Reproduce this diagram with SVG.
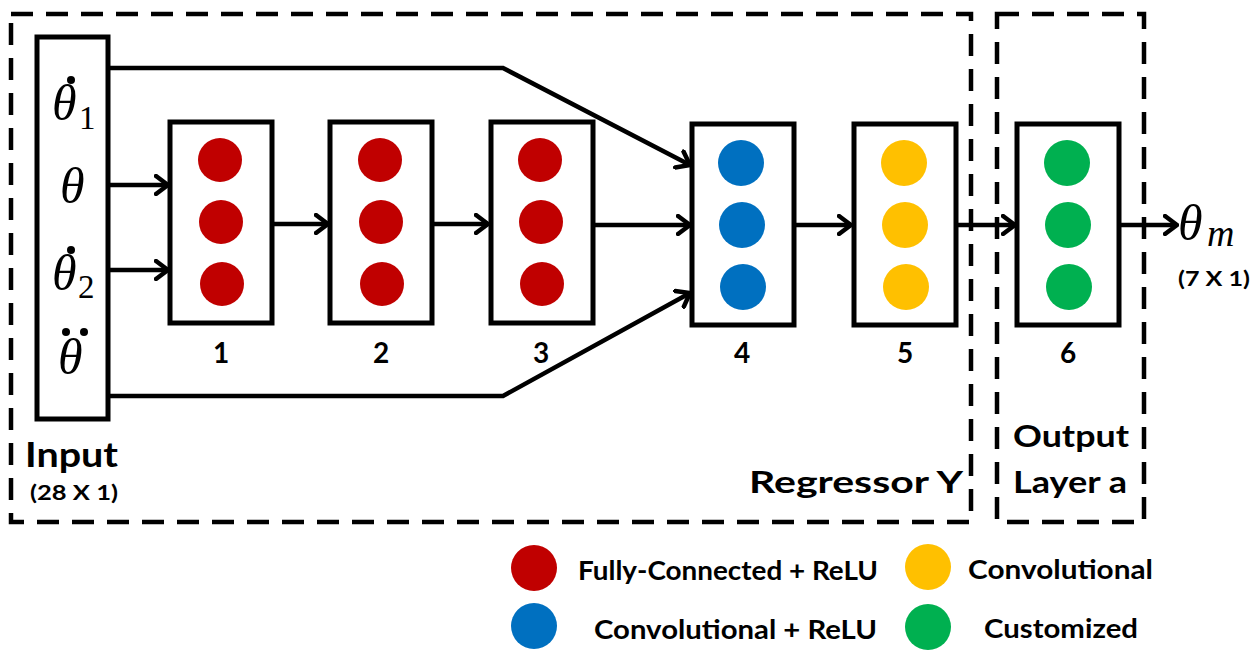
<svg xmlns="http://www.w3.org/2000/svg" width="1256" height="658" viewBox="0 0 1256 658">
<style>
.frame{fill:none;stroke:#000;stroke-width:4.5;stroke-dasharray:22 13}
.box{fill:#fff;stroke:#000;stroke-width:5}
.conn{fill:none;stroke:#000;stroke-width:4.5;stroke-linejoin:miter}
.lbl{font-family:Lato,"Liberation Sans",Arial,sans-serif;font-weight:bold;fill:#000}
.math{font-family:"Liberation Serif","Times New Roman",serif;font-style:italic;fill:#000}
.sub{font-family:"Liberation Serif","Times New Roman",serif;fill:#000}
.fc{fill:#C00000}.cr{fill:#0070C0}.cv{fill:#FFC000}.cu{fill:#00B050}
</style>
<defs>
<marker id="arr" markerUnits="userSpaceOnUse" viewBox="0 0 16 22" refX="14" refY="11" markerWidth="16" markerHeight="22" orient="auto">
<path d="M2,2 L14,11 L2,20" fill="none" stroke="#000" stroke-width="4.5" stroke-linecap="round"/>
</marker>
</defs>
<g id="frames">
<rect class="frame" x="11" y="14" width="960" height="508"/>
<rect class="frame" x="997" y="14" width="147" height="508"/>
</g>
<g id="connectors">
<polyline class="conn" points="109,68 503,68 690,165" marker-end="url(#arr)"/>
<polyline class="conn" points="109,396 503,396 690,293" marker-end="url(#arr)"/>
<line class="conn" x1="109" y1="185" x2="168" y2="185" marker-end="url(#arr)"/>
<line class="conn" x1="109" y1="270" x2="168" y2="270" marker-end="url(#arr)"/>
<line class="conn" x1="272" y1="224" x2="328" y2="224" marker-end="url(#arr)"/>
<line class="conn" x1="432" y1="224" x2="488" y2="224" marker-end="url(#arr)"/>
<line class="conn" x1="593" y1="225" x2="690" y2="225" marker-end="url(#arr)"/>
<line class="conn" x1="794" y1="225" x2="851" y2="225" marker-end="url(#arr)"/>
<line class="conn" x1="956" y1="225" x2="1015" y2="225" marker-end="url(#arr)"/>
<line class="conn" x1="1119" y1="225" x2="1177" y2="225" marker-end="url(#arr)"/>
</g>
<g id="input">
<rect class="box" x="37" y="37" width="71" height="382"/>
<text class="math" x="52" y="120" font-size="50">θ</text>
<circle cx="71" cy="80" r="4"/>
<text class="sub" x="79" y="129" font-size="33">1</text>
<text class="math" x="60" y="203" font-size="50">θ</text>
<text class="math" x="52" y="290" font-size="50">θ</text>
<circle cx="71" cy="250" r="4"/>
<text class="sub" x="78" y="298" font-size="33">2</text>
<text class="math" x="58" y="374" font-size="50">θ</text>
<circle cx="66" cy="332" r="4"/>
<circle cx="84" cy="332" r="4"/>
<text class="lbl" x="25" y="467" font-size="34" textLength="93" lengthAdjust="spacingAndGlyphs">Input</text>
<text class="lbl" x="30" y="500" font-size="21" textLength="88" lengthAdjust="spacingAndGlyphs">(28 X 1)</text>
</g>
<g id="layer1">
<rect class="box" x="170" y="122" width="102" height="201"/>
<circle class="fc" cx="220" cy="160" r="22"/><circle class="fc" cx="221" cy="222" r="22"/><circle class="fc" cx="222" cy="284" r="22"/>
<text class="lbl" x="221" y="363" font-size="28" text-anchor="middle">1</text>
</g>
<g id="layer2">
<rect class="box" x="330" y="122" width="102" height="201"/>
<circle class="fc" cx="380" cy="160" r="22"/><circle class="fc" cx="381" cy="222" r="22"/><circle class="fc" cx="382" cy="284" r="22"/>
<text class="lbl" x="381" y="363" font-size="28" text-anchor="middle">2</text>
</g>
<g id="layer3">
<rect class="box" x="491" y="122" width="102" height="201"/>
<circle class="fc" cx="540" cy="160" r="22"/><circle class="fc" cx="541" cy="222" r="22"/><circle class="fc" cx="542" cy="284" r="22"/>
<text class="lbl" x="541" y="363" font-size="28" text-anchor="middle">3</text>
</g>
<g id="layer4">
<rect class="box" x="692" y="124" width="102" height="201"/>
<circle class="cr" cx="741" cy="163" r="23"/><circle class="cr" cx="742" cy="225" r="23"/><circle class="cr" cx="743" cy="287" r="23"/>
<text class="lbl" x="742" y="363" font-size="28" text-anchor="middle">4</text>
</g>
<g id="layer5">
<rect class="box" x="854" y="124" width="102" height="201"/>
<circle class="cv" cx="904" cy="163" r="23"/><circle class="cv" cx="905" cy="225" r="23"/><circle class="cv" cx="906" cy="287" r="23"/>
<text class="lbl" x="905" y="363" font-size="28" text-anchor="middle">5</text>
</g>
<g id="layer6">
<rect class="box" x="1017" y="124" width="102" height="201"/>
<circle class="cu" cx="1067" cy="163" r="23"/><circle class="cu" cx="1068" cy="225" r="23"/><circle class="cu" cx="1069" cy="287" r="23"/>
<text class="lbl" x="1068" y="363" font-size="28" text-anchor="middle">6</text>
</g>
<g id="output">
<text class="math" x="1178" y="240" font-size="50">θ</text>
<text class="math" x="1207" y="246" font-size="38">m</text>
<text class="lbl" x="1178" y="286" font-size="20" textLength="72" lengthAdjust="spacingAndGlyphs">(7 X 1)</text>
</g>
<g id="titles">
<text class="lbl" x="749" y="493" font-size="31" textLength="214" lengthAdjust="spacingAndGlyphs">Regressor Y</text>
<text class="lbl" x="1013" y="447" font-size="31" textLength="116" lengthAdjust="spacingAndGlyphs">Output</text>
<text class="lbl" x="1013" y="493" font-size="31" textLength="114" lengthAdjust="spacingAndGlyphs">Layer a</text>
</g>
<g id="legend">
<circle class="fc" cx="534" cy="568" r="23"/>
<text class="lbl" x="578" y="580" font-size="26" textLength="300" lengthAdjust="spacingAndGlyphs">Fully-Connected + ReLU</text>
<circle class="cv" cx="928" cy="567" r="23"/>
<text class="lbl" x="968" y="579" font-size="26" textLength="185" lengthAdjust="spacingAndGlyphs">Convolutional</text>
<circle class="cr" cx="534" cy="626" r="23"/>
<text class="lbl" x="594" y="639" font-size="26" textLength="283" lengthAdjust="spacingAndGlyphs">Convolutional + ReLU</text>
<circle class="cu" cx="928" cy="627" r="23"/>
<text class="lbl" x="984" y="638" font-size="26" textLength="154" lengthAdjust="spacingAndGlyphs">Customized</text>
</g>
</svg>
